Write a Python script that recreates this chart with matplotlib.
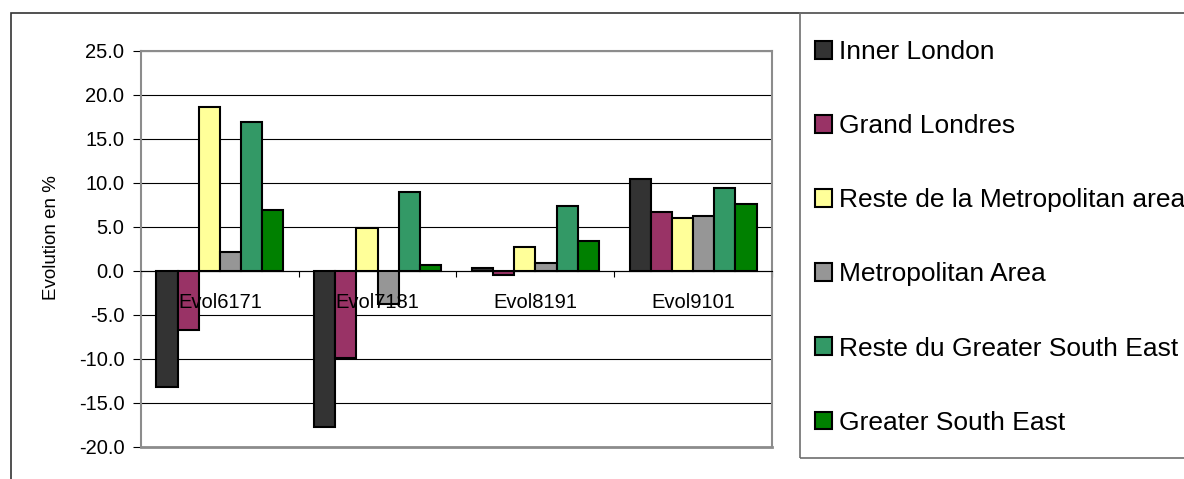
import matplotlib
matplotlib.use("Agg")
import matplotlib.pyplot as plt
from matplotlib.patches import Rectangle
import numpy as np

plt.rcParams["font.family"] = ["Liberation Sans", "DejaVu Sans"]

periods = ["Evol6171", "Evol7181", "Evol8191", "Evol9101"]
series = [
    "Inner London",
    "Grand Londres",
    "Reste de la Metropolitan area",
    "Metropolitan Area",
    "Reste du Greater South East",
    "Greater South East",
]
# evolution in % per period, one list per series
inner_london = [-13.2, -17.7, 0.3, 10.4]
grand_londres = [-6.7, -9.9, -0.5, 6.7]
reste_metro = [18.6, 4.9, 2.7, 6.0]
metro_area = [2.2, -3.8, 0.9, 6.3]
reste_gse = [16.9, 9.0, 7.4, 9.4]
greater_se = [6.9, 0.7, 3.4, 7.6]
values = [inner_london, grand_londres, reste_metro, metro_area, reste_gse, greater_se]
colors = ["#333333", "#993366", "#ffff99", "#969696", "#339966", "#008000"]

W, H = 1184, 479
fig = plt.figure(figsize=(W / 100, H / 100), dpi=100)
ax = fig.add_axes([141 / W, 32 / H, 631 / W, 396 / H])

x = np.arange(len(periods))
bw = 0.134
for i, (vals, c, name) in enumerate(zip(values, colors, series)):
    ax.bar(x + (i - 2.5) * bw, vals, width=bw, color=c, edgecolor="black",
           linewidth=1.5, label=name, zorder=3)

ax.set_xlim(-0.5, 3.5)
ax.set_ylim(-20, 25)
yt = np.arange(-20, 26, 5)
ax.set_yticks(yt)
ax.set_yticklabels([f"{v:.1f}" for v in yt], fontsize=14.5)
ax.yaxis.grid(True, color="black", linewidth=0.8, zorder=0)
ax.set_axisbelow(True)
ax.tick_params(axis="y", direction="out", length=6, width=0.8, pad=6)

# category axis crosses at zero; labels sit on top of the bars
ax.spines["bottom"].set_position(("data", 0))
ax.spines["bottom"].set_color("black")
ax.spines["bottom"].set_linewidth(0.8)
ax.set_xticks(x)
ax.set_xticklabels([])
ax.set_xticks(np.arange(-0.5, 3.6, 1), minor=True)
ax.tick_params(axis="x", which="major", length=0)
ax.tick_params(axis="x", which="minor", direction="out", length=4, width=0.8)
for xi, lab in zip(x, periods):
    ax.annotate(lab, (xi, 0), xytext=(0, -31 * 0.72), textcoords="offset points",
                ha="center", va="center", fontsize=14.5, zorder=10)
for s in ("top", "left", "right"):
    ax.spines[s].set_color("#8c8c8c")
    ax.spines[s].set_linewidth(1.5)
ax.plot([0, 1], [0, 0], transform=ax.transAxes, color="#8c8c8c", lw=2,
        clip_on=False, zorder=5)

ax.set_ylabel("Evolution en %", fontsize=13.5)
ax.yaxis.set_label_coords(-0.128, 0.53)

# outer chart border and legend box
fig.patches.append(Rectangle((11 / W, -0.1), 1.2, 1 - 13 / H + 0.1,
                             transform=fig.transFigure, fill=False,
                             edgecolor="#333333", lw=1.2))
fig.patches.append(Rectangle((800 / W, 1 - 458 / H), 1.0, (458 - 13) / H,
                             transform=fig.transFigure, fill=False,
                             edgecolor="#6e6e6e", lw=1.2))

fig.legend(loc="upper left", bbox_to_anchor=(815 / W, 1 - 40 / H),
           frameon=False, fontsize=19, handlelength=0.65, handleheight=0.65,
           handletextpad=0.25, labelspacing=1.9, borderaxespad=0, borderpad=0)

fig.savefig("out.png", dpi=100)
